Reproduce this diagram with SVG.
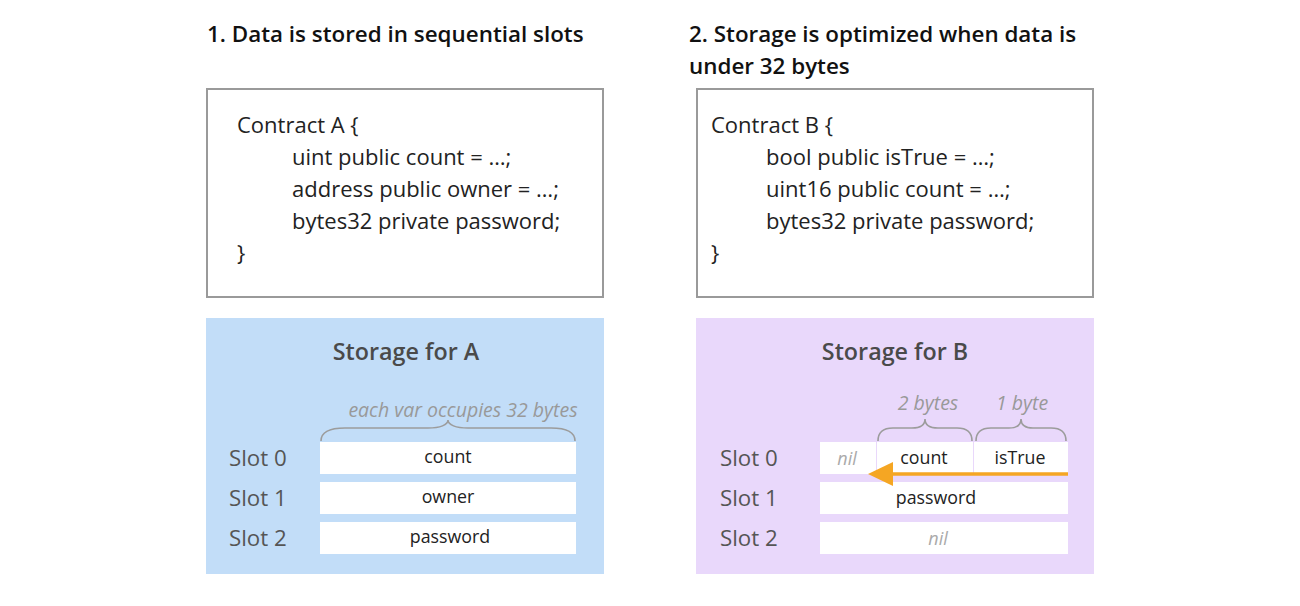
<svg xmlns="http://www.w3.org/2000/svg" width="1300" height="606" viewBox="0 0 1300 606">
<style>
text{font-family:"Open Sans","Noto Sans","Liberation Sans",sans-serif}
.title{font-size:22.4px;font-weight:600;fill:#111}
.code{font-size:22px;fill:#222}
.codebox{fill:#fff;stroke:#9a9a9a;stroke-width:2}
.sttitle{font-size:23.3px;font-weight:600;fill:#4a4a4a;text-anchor:middle}
.slot{font-size:22.3px;fill:#555}
.cell{fill:#fff}
.ctext{font-size:17.8px;fill:#222;text-anchor:middle}
.note{font-size:19.5px;font-style:italic;fill:#999;text-anchor:middle}
.nil{font-size:18px;font-style:italic;fill:#aaa;text-anchor:middle}
.brace{fill:none;stroke:#9c9c9c;stroke-width:1.6}
</style>
<rect width="1300" height="606" fill="#fff"/>
<g id="title-1"><text class="title" x="207" y="42">1. Data is stored in sequential slots</text></g>
<g id="title-2"><text class="title" x="689" y="42">2. Storage is optimized when data is</text><text class="title" x="689" y="74">under 32 bytes</text></g>
<g id="contract-a">
<rect class="codebox" x="207" y="89" width="396" height="208"/>
<text class="code" x="237" y="133">Contract A {</text>
<text class="code" x="292" y="165">uint public count = …;</text>
<text class="code" x="292" y="197">address public owner = …;</text>
<text class="code" x="292" y="229">bytes32 private password;</text>
<text class="code" x="237" y="261">}</text>
</g>
<g id="contract-b">
<rect class="codebox" x="697" y="89" width="396" height="208"/>
<text class="code" x="711" y="133">Contract B {</text>
<text class="code" x="766" y="165">bool public isTrue = …;</text>
<text class="code" x="766" y="197">uint16 public count = …;</text>
<text class="code" x="766" y="229">bytes32 private password;</text>
<text class="code" x="711" y="261">}</text>
</g>
<g id="storage-a">
<rect x="206" y="318" width="398" height="256" fill="#c2ddf8"/>
<text class="sttitle" x="406" y="360">Storage for A</text>
<text class="note" x="463" y="417">each var occupies 32 bytes</text>
<path class="brace" d="M321,441 C321,432 330,428 345,428 L428,428 C440,428 448,425 448,420 C448,425 456,428 468,428 L551,428 C566,428 575,432 575,441"/>
<text class="slot" x="229" y="466">Slot 0</text>
<text class="slot" x="229" y="506">Slot 1</text>
<text class="slot" x="229" y="546">Slot 2</text>
<rect class="cell" x="320" y="442" width="256" height="32"/>
<rect class="cell" x="320" y="482" width="256" height="32"/>
<rect class="cell" x="320" y="522" width="256" height="32"/>
<text class="ctext" x="448" y="463">count</text>
<text class="ctext" x="448" y="503">owner</text>
<text class="ctext" x="450" y="543">password</text>
</g>
<g id="storage-b">
<rect x="696" y="318" width="398" height="256" fill="#e9d8fb"/>
<text class="sttitle" x="895" y="360">Storage for B</text>
<text class="note" x="928" y="410">2 bytes</text>
<text class="note" x="1022" y="410">1 byte</text>
<path class="brace" d="M878,441 C878,432 884,428 893,428 L912,428 C920,428 925,425 925,419 C925,425 930,428 938,428 L957,428 C966,428 972,432 972,441"/>
<path class="brace" d="M976,441 C976,432 982,428 991,428 L1009,428 C1017,428 1021,425 1021,419 C1021,425 1025,428 1033,428 L1051,428 C1060,428 1066,432 1066,441"/>
<text class="slot" x="720" y="466">Slot 0</text>
<text class="slot" x="720" y="506">Slot 1</text>
<text class="slot" x="720" y="546">Slot 2</text>
<rect class="cell" x="820" y="442" width="56" height="32"/>
<rect class="cell" x="877" y="442" width="96" height="32"/>
<rect class="cell" x="974" y="442" width="94" height="32"/>
<rect class="cell" x="820" y="482" width="248" height="32"/>
<rect class="cell" x="820" y="522" width="248" height="32"/>
<text class="nil" x="847" y="465">nil</text>
<text class="ctext" x="924" y="464">count</text>
<text class="ctext" x="1020" y="464">isTrue</text>
<text class="ctext" x="936" y="504">password</text>
<text class="nil" x="938" y="545">nil</text>
</g>
<g id="connectors">
<line x1="1068" y1="474" x2="890" y2="474" stroke="#f5a623" stroke-width="3.5"/>
<polygon points="868,474 893,462 893,486" fill="#f5a623"/>
</g>
</svg>
